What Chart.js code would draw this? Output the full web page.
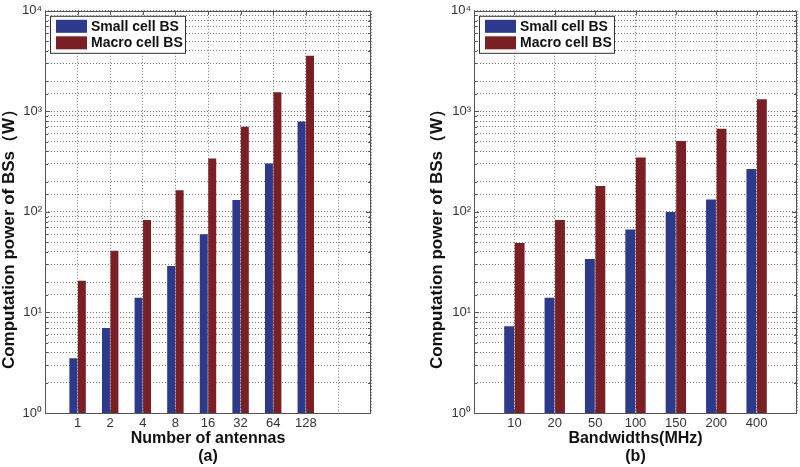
<!DOCTYPE html>
<html>
<head>
<meta charset="utf-8">
<script src="https://cdn.jsdelivr.net/npm/chart.js@4/dist/chart.umd.min.js"></script>
<style>
  body { margin: 0; background: #fff; }
  .panel { position: absolute; top: 0; width: 400px; height: 467px; }
</style>
</head>
<body>
<div class="panel" style="left:0"><canvas id="chartA" width="400" height="467"></canvas></div>
<div class="panel" style="left:400px"><canvas id="chartB" width="400" height="467"></canvas></div>
<script>
// panel (a): number of antennas
const antennaLabels = ["1", "2", "4", "8", "16", "32", "64", "128"];
const antennaSmall = [3.5, 7.0, 14, 29, 60, 131, 303, 793];
const antennaMacro = [20.7, 41, 83, 164, 340, 703, 1546, 3581];

// panel (b): bandwidths
const bandwidthLabels = ["10", "20", "50", "100", "150", "200", "400"];
const bandwidthSmall = [7.3, 14, 34, 67, 100, 133, 267];
const bandwidthMacro = [49, 83, 181, 348, 508, 672, 1318];

const seriesNames = ["Small cell BS", "Macro cell BS"];
const seriesColors = ["#2d3a8c", "#7a1f24"];
const yTitle = "Computation power of BSs（W）";
const superDigits = ["⁰", "¹", "²", "³", "⁴"];

const FONT = "'Liberation Sans', Arial, sans-serif";

// box around plot area with inward tick marks, MATLAB style
const boxPlugin = {
  id: "box",
  afterDraw(chart) {
    const a = chart.chartArea;
    const ctx = chart.ctx;
    const yScale = chart.scales.y;
    const xScale = chart.scales.x;
    ctx.save();
    ctx.strokeStyle = "#555";
    ctx.lineWidth = 1;
    ctx.beginPath();
    yScale.ticks.forEach((t) => {
      const py = Math.round(yScale.getPixelForValue(t.value)) + 0.5;
      const len = t.major || t.label ? 5 : 3;
      ctx.moveTo(a.left, py); ctx.lineTo(a.left + len, py);
      ctx.moveTo(a.right, py); ctx.lineTo(a.right - len, py);
    });
    xScale.ticks.forEach((t, i) => {
      if (!t.label) return;
      const px = Math.round(xScale.getPixelForTick(i)) + 0.5;
      ctx.moveTo(px, a.top); ctx.lineTo(px, a.top + 4);
      ctx.moveTo(px, a.bottom); ctx.lineTo(px, a.bottom - 4);
    });
    ctx.stroke();
    ctx.strokeRect(Math.round(a.left) + 0.5, Math.round(a.top) + 0.5,
      Math.round(a.right - a.left) - 1, Math.round(a.bottom - a.top));
    ctx.restore();
  },
};

// legend box drawn inside the plot area
const boxLegend = {
  id: "boxLegend",
  afterDraw(chart) {
    const a = chart.chartArea;
    const ctx = chart.ctx;
    const left = a.left + 5;
    const top = a.top + 5;
    ctx.save();
    ctx.fillStyle = "#fff";
    ctx.fillRect(left, top, 135, 37);
    ctx.strokeStyle = "#333";
    ctx.lineWidth = 1;
    ctx.strokeRect(left + 0.5, top + 0.5, 135, 37);
    ctx.font = "bold 14px " + FONT;
    ctx.textBaseline = "middle";
    chart.data.datasets.forEach((ds, i) => {
      const rowTop = top + 4 + i * 16.5;
      ctx.fillStyle = ds.backgroundColor;
      ctx.fillRect(left + 6, rowTop, 31, 13);
      ctx.fillStyle = "#111";
      ctx.fillText(ds.label, left + 41, rowTop + 7);
    });
    ctx.restore();
  },
};

// rotated y title, placed a bit below the plot centre like the original
const yTitlePlugin = {
  id: "yTitle",
  afterDraw(chart, args, opts) {
    const ctx = chart.ctx;
    ctx.save();
    ctx.translate(opts.x, opts.y);
    ctx.rotate(-Math.PI / 2);
    ctx.font = "bold 17px " + FONT;
    ctx.fillStyle = "#111";
    ctx.textAlign = "center";
    ctx.textBaseline = "middle";
    ctx.fillText(yTitle, 0, 0);
    ctx.restore();
  },
};

function makePanel(canvasId, labels, small, macro, xTitle, tag, areaLeft, padRight, titleX) {
  const padded = (arr, tail) => [null, ...arr, ...Array(tail).fill(null)];
  const tail = canvasId === "chartA" ? 2 : 1;
  const allLabels = ["", ...labels, ...Array(tail).fill("")];

  return new Chart(document.getElementById(canvasId), {
    type: "bar",
    data: {
      labels: allLabels,
      datasets: [
        { label: seriesNames[0], data: padded(small, tail), backgroundColor: seriesColors[0] },
        { label: seriesNames[1], data: padded(macro, tail), backgroundColor: seriesColors[1] },
      ],
    },
    options: {
      responsive: false,
      animation: false,
      layout: { padding: { left: 0, right: padRight, top: 10, bottom: 0 } },
      datasets: { bar: { categoryPercentage: 0.52, barPercentage: 0.94, borderWidth: 0 } },
      plugins: {
        legend: { display: false },
        tooltip: { enabled: false },
        yTitle: { x: titleX, y: 235 },
      },
      scales: {
        x: {
          offset: false,
          grid: { offset: false, color: "#777", lineWidth: 1, drawTicks: false },
          border: { display: false, dash: [1, 2] },
          ticks: {
            autoSkip: false,
            maxRotation: 0,
            padding: 3,
            color: "#333",
            font: { family: FONT, size: 13 },
          },
          title: {
            display: true,
            text: [xTitle, tag],
            color: "#111",
            font: { family: FONT, size: 16, weight: "bold", lineHeight: 1.15 },
            padding: { top: 0, bottom: 1 },
          },
          afterFit(scale) { scale.height = 54; },
        },
        y: {
          type: "logarithmic",
          min: 1,
          max: 10000,
          grid: { color: "#777", lineWidth: 1, drawTicks: false },
          border: { display: false, dash: [1, 2] },
          ticks: {
            autoSkip: false,
            padding: 3,
            color: "#333",
            font: { family: FONT, size: 13 },
            callback(value) {
              const e = Math.log10(value);
              if (Math.abs(e - Math.round(e)) < 1e-9) {
                return "10" + superDigits[Math.round(e)];
              }
              return "";
            },
          },
          afterFit(scale) { scale.width = areaLeft; },
        },
      },
    },
    plugins: [boxPlugin, boxLegend, yTitlePlugin],
  });
}

makePanel("chartA", antennaLabels, antennaSmall, antennaMacro,
  "Number of antennas", "(a)", 45, 29, 9);
makePanel("chartB", bandwidthLabels, bandwidthSmall, bandwidthMacro,
  "Bandwidths(MHz)", "(b)", 74, 1, 37);
</script>
</body>
</html>
